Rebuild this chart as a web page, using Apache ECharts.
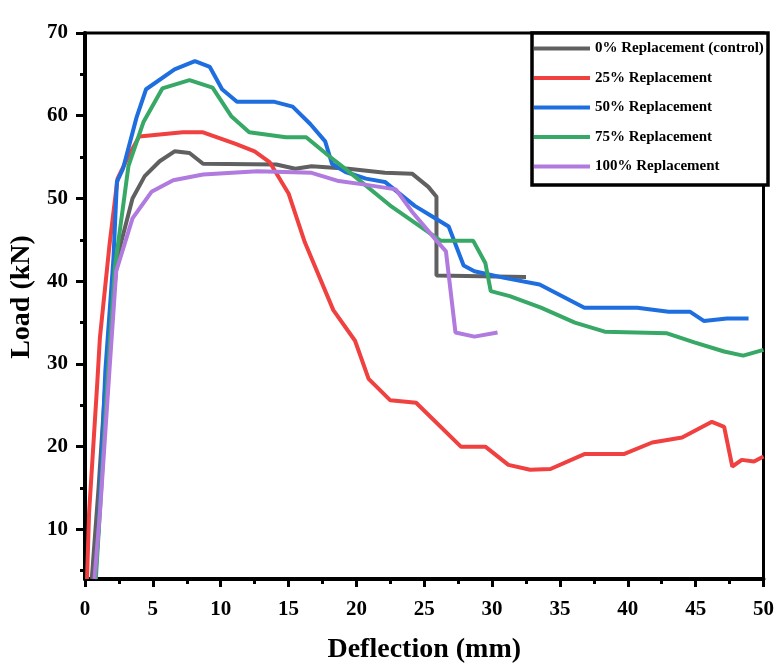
<!DOCTYPE html>
<html>
<head>
<meta charset="utf-8">
<script src="https://cdn.jsdelivr.net/npm/echarts@6/dist/echarts.min.js"></script>
<style>html,body{margin:0;padding:0;background:#fff;}#c{width:777px;height:669px;}</style>
</head>
<body>
<div id="c"></div>
<script>
const seriesNames = ['0% Replacement (control)', '25% Replacement', '50% Replacement', '75% Replacement', '100% Replacement'];
const colors = ['#606060', '#f04040', '#1e6ee0', '#38a866', '#b07ade'];
const yTickValues = [10, 20, 30, 40, 50, 60, 70];
const yMinorTickValues = [5, 15, 25, 35, 45, 55, 65];

const rep0 = [[0.5,4],[1.0,15],[1.6,30],[2.4,43],[3.5,50],[4.4,52.7],[5.5,54.5],[6.6,55.7],[7.7,55.5],[8.7,54.2],[14.1,54.1],[15.5,53.6],[16.7,53.9],[19.4,53.6],[22.1,53.1],[24.1,53.0],[25.3,51.4],[25.9,50.2],[25.9,40.7],[32.5,40.5]];
const rep25 = [[0.15,4],[0.3,12],[0.9,27.6],[1.1,33.2],[1.8,44.3],[2.4,52.4],[3.2,55.1],[4.0,57.5],[7.2,58.0],[8.7,58.0],[11.1,56.6],[12.5,55.7],[13.6,54.4],[15.0,50.6],[16.2,44.7],[18.3,36.5],[19.9,32.8],[20.9,28.2],[22.5,25.6],[24.4,25.3],[27.7,20.0],[29.5,20.0],[31.2,17.8],[32.8,17.2],[34.3,17.3],[36.8,19.1],[39.7,19.1],[41.8,20.5],[44.0,21.1],[46.2,23.0],[47.1,22.4],[47.7,17.6],[48.4,18.4],[49.3,18.2],[50,18.8]];
const rep50 = [[0.75,4],[1.0,10],[1.5,29.2],[2.1,42.8],[2.35,52.0],[2.8,53.6],[3.8,59.8],[4.5,63.2],[6.6,65.6],[8.1,66.6],[9.2,65.9],[10.1,63.2],[11.2,61.7],[13.9,61.7],[15.3,61.1],[16.6,59.0],[17.7,56.9],[18.2,54.2],[19.2,53.2],[20.7,52.4],[22.1,52.0],[24.3,49.1],[25.5,47.9],[26.8,46.6],[27.9,41.9],[28.7,41.2],[30.9,40.4],[33.5,39.6],[36.8,36.8],[40.7,36.8],[43.0,36.3],[44.6,36.3],[45.6,35.2],[47.3,35.5],[48.9,35.5]];
const rep75 = [[0.8,4],[1.2,15],[1.7,29.2],[2.2,41.6],[3.2,53.9],[4.3,59.2],[5.7,63.3],[7.7,64.3],[9.4,63.4],[10.8,59.9],[12.1,58.0],[14.8,57.4],[16.3,57.4],[18.0,55.1],[19.4,53.3],[22.6,49.0],[26.2,44.9],[28.6,44.9],[29.5,42.2],[29.9,38.8],[31.3,38.2],[33.6,36.8],[36.1,35.0],[38.3,33.9],[42.9,33.7],[44.9,32.6],[47.1,31.5],[48.5,31.0],[50,31.7]];
const rep100 = [[0.7,4],[1.1,12],[1.8,29.2],[2.3,41.2],[3.5,47.6],[4.9,50.8],[6.5,52.2],[8.7,52.9],[12.7,53.3],[16.7,53.1],[18.7,52.1],[20.5,51.7],[22.9,51.1],[24.1,48.4],[25.9,44.9],[26.6,43.6],[27.3,33.8],[28.7,33.3],[30.4,33.8]];

const allData = [rep0, rep25, rep50, rep75, rep100];
const FONT = 'Liberation Serif';

const chart = echarts.init(document.getElementById('c'), null, {renderer: 'canvas'});
chart.setOption({
  animation: false,
  backgroundColor: '#fff',
  grid: {left: 85, right: 9, top: 33, bottom: 85, show: true, borderColor: '#000', borderWidth: 3, backgroundColor: 'transparent'},
  xAxis: {
    type: 'value', min: 0, max: 50, interval: 5,
    name: 'Deflection (mm)', nameLocation: 'middle', nameGap: 57,
    nameTextStyle: {fontFamily: FONT, fontWeight: 'bold', fontSize: 28, color: '#000'},
    axisLine: {show: true, lineStyle: {color: '#000', width: 4}},
    axisTick: {show: true, inside: false, length: 8, lineStyle: {color: '#000', width: 3}},
    minorTick: {show: true, splitNumber: 2, length: 5, lineStyle: {color: '#000', width: 3}},
    axisLabel: {fontFamily: FONT, fontWeight: 'bold', fontSize: 21, color: '#000', margin: 20},
    splitLine: {show: false}
  },
  yAxis: [{
    type: 'value', min: 4, max: 70,
    name: 'Load (kN)', nameLocation: 'middle', nameGap: 47,
    nameTextStyle: {fontFamily: FONT, fontWeight: 'bold', fontSize: 28, color: '#000', padding: [0, 0, 0, 18]},
    axisLine: {show: true, lineStyle: {color: '#000', width: 4}},
    axisTick: {show: true, length: 9, customValues: yTickValues, lineStyle: {color: '#000', width: 3}},
    axisLabel: {fontFamily: FONT, fontWeight: 'bold', fontSize: 21, color: '#000', margin: 17, customValues: yTickValues},
    splitLine: {show: false}
  }, {
    type: 'value', min: 4, max: 70, position: 'left', offset: 0,
    axisLine: {show: false},
    axisTick: {show: true, length: 5, customValues: yMinorTickValues, lineStyle: {color: '#000', width: 3}},
    axisLabel: {show: false},
    splitLine: {show: false}
  }],
  legend: {
    orient: 'vertical', left: 534, top: 41, z: 10,
    padding: 0, itemGap: 14.5, itemWidth: 56, itemHeight: 4, icon: 'rect',
    textStyle: {fontFamily: FONT, fontWeight: 'bold', fontSize: 15, color: '#000', lineHeight: 15},
    data: seriesNames
  },
  graphic: [{
    type: 'rect', z: 9, silent: true,
    shape: {x: 532, y: 33, width: 236, height: 152},
    style: {fill: '#fff', stroke: '#000', lineWidth: 3.5}
  }],
  series: allData.map((d, i) => ({
    name: seriesNames[i], type: 'line', data: d, showSymbol: false, symbol: 'none',
    clip: true, lineStyle: {color: colors[i], width: 4}, itemStyle: {color: colors[i]}
  }))
});
</script>
</body>
</html>
